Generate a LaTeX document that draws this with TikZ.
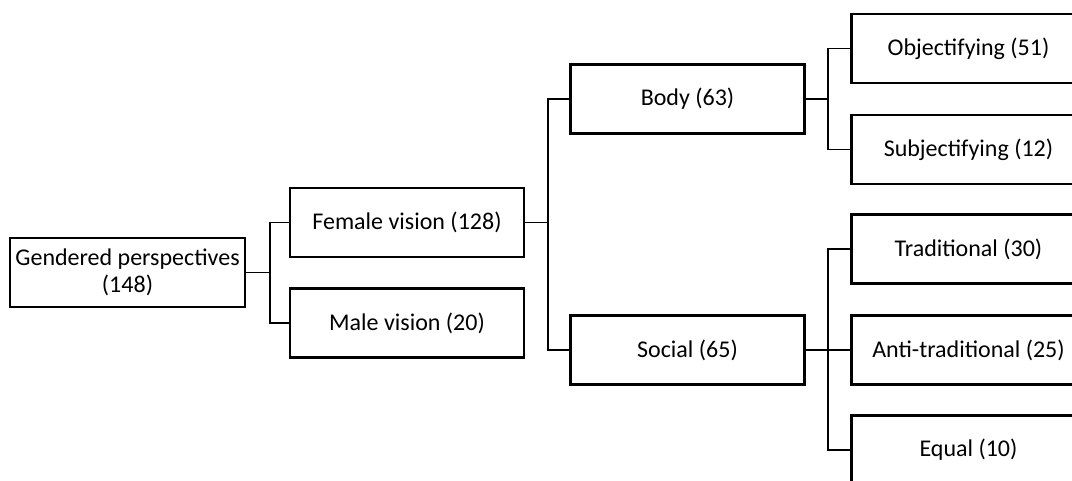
\documentclass[tikz,border=0pt]{standalone}
\usepackage{fontspec}
\setmainfont{Carlito}
\begin{document}
\begin{tikzpicture}[x=1pt,y=-1pt,
  box/.style={draw, line width=2.6pt, minimum width=234pt, minimum height=69pt, inner sep=0pt,
    font=\fontsize{24}{27}\selectfont, align=center},
  conn/.style={draw, line width=1.2pt}]
\useasboundingbox (0,0) rectangle (1072,481);
\node[box, minimum width=235pt] (root) at (127.5,272.5) {Gendered perspectives\\(148)};
\node[box] (fem) at (407,222.5) {Female vision (128)};
\node[box] (male) at (407,323) {Male vision (20)};
\node[box] (body) at (687.5,99) {Body (63)};
\node[box] (soc) at (687.5,350) {Social (65)};
\node[box] (obj) at (968.5,48.5) {Objectifying (51)};
\node[box] (sub) at (968.5,149.5) {Subjectifying (12)};
\node[box] (trad) at (968.5,249) {Traditional (30)};
\node[box] (anti) at (968.5,350) {Anti-traditional (25)};
\node[box] (eq) at (968.5,450) {Equal (10)};
\coordinate (j1) at (270,272.5);
\coordinate (j2) at (548,222.5);
\coordinate (j3) at (828,99);
\coordinate (j4) at (828,350);
\draw[conn] (root.east) -- (j1);
\draw[conn] (fem.west) -- (fem.west -| j1) -- (male.west -| j1) -- (male.west);
\draw[conn] (fem.east) -- (j2);
\draw[conn] (body.west) -- (body.west -| j2) -- (soc.west -| j2) -- (soc.west);
\draw[conn] (body.east) -- (j3);
\draw[conn] (obj.west) -- (obj.west -| j3) -- (sub.west -| j3) -- (sub.west);
\draw[conn] (soc.east) -- (j4);
\draw[conn] (trad.west) -- (trad.west -| j4) -- (eq.west -| j4) -- (eq.west);
\draw[conn] (j4) -- (anti.west);
\end{tikzpicture}
\end{document}
